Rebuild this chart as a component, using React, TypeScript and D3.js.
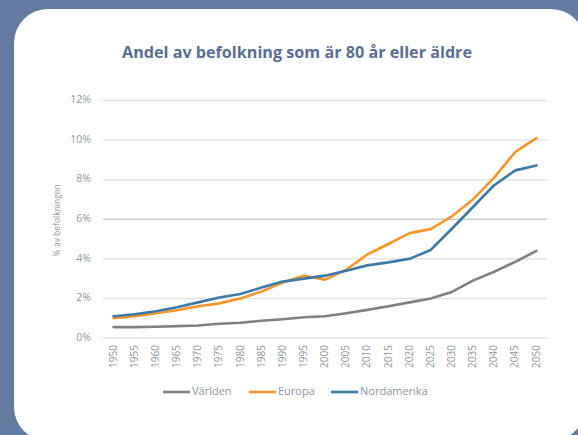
import React from "react";
import * as d3 from "d3";

const years = [1950, 1955, 1960, 1965, 1970, 1975, 1980, 1985, 1990, 1995, 2000, 2005, 2010, 2015, 2020, 2025, 2030, 2035, 2040, 2045, 2050];
const varlden = [0.55, 0.55, 0.57, 0.6, 0.63, 0.72, 0.77, 0.87, 0.95, 1.05, 1.1, 1.25, 1.42, 1.6, 1.8, 2.0, 2.33, 2.9, 3.35, 3.85, 4.4];
const europa = [1.0, 1.1, 1.25, 1.4, 1.6, 1.75, 2.0, 2.35, 2.8, 3.15, 2.95, 3.45, 4.22, 4.75, 5.3, 5.5, 6.15, 7.0, 8.1, 9.4, 10.1];
const nordamerika = [1.1, 1.2, 1.35, 1.55, 1.8, 2.05, 2.22, 2.55, 2.85, 3.0, 3.15, 3.4, 3.67, 3.82, 4.0, 4.45, 5.52, 6.62, 7.72, 8.47, 8.72];
const yTicks = [0, 2, 4, 6, 8, 10, 12];

const seriesNames = ["Världen", "Europa", "Nordamerika"];
const seriesValues = [varlden, europa, nordamerika];
const colors = ["#808080", "#f4962a", "#3c7aa6"];

const W = 578;
const H = 435;
const plot = { left: 103, right: 547, top: 100.5, bottom: 338 };

export default function App() {
  const x = d3
    .scalePoint<number>()
    .domain(years)
    .range([plot.left, plot.right])
    .padding(0.5);
  const y = d3.scaleLinear().domain([0, 12]).range([plot.bottom, plot.top]);

  const line = d3
    .line<number>()
    .x((_, i) => x(years[i]) as number)
    .y((d) => y(d));

  const tickColor = "#8d969e";

  return (
    <svg
      width={W}
      height={H}
      style={{ position: "fixed", left: 0, top: 0 }}
      fontFamily="'Open Sans', 'DejaVu Sans', sans-serif"
    >
      <rect width={W} height={H} fill="#637b9e" />
      <rect x={14} y={9} width={571} height={432} rx={34} ry={34} fill="#ffffff" />

      {/* Title */}
      <text
        x={297}
        y={58}
        textAnchor="middle"
        fontSize={16}
        fontWeight="bold"
        fill="#5a6e90"
        textLength={350}
        lengthAdjust="spacingAndGlyphs"
      >
        Andel av befolkning som är 80 år eller äldre
      </text>

      {/* Grid & Y labels */}
      {yTicks.map((t) => (
        <g key={`y-${t}`}>
          <line
            x1={plot.left}
            x2={plot.right}
            y1={y(t)}
            y2={y(t)}
            stroke={t === 6 ? "#c9cdd0" : "#e2e4e6"}
            strokeWidth={1.5}
          />
          <text
            x={91}
            y={y(t)}
            textAnchor="end"
            dominantBaseline="middle"
            fontSize={10.5}
            fill={tickColor}
          >
            {t}%
          </text>
        </g>
      ))}

      {/* Y axis title */}
      <text
        transform={`translate(58, ${y(6) + 1}) rotate(-90)`}
        textAnchor="middle"
        dominantBaseline="middle"
        fontSize={8.5}
        fill={tickColor}
      >
        % av befolkningen
      </text>

      {/* X labels */}
      {years.map((yr) => (
        <text
          key={`x-${yr}`}
          transform={`translate(${(x(yr) as number) + 0.5}, 345) rotate(-90)`}
          textAnchor="end"
          dominantBaseline="middle"
          fontSize={10}
          fill={tickColor}
        >
          {yr}
        </text>
      ))}

      {/* Lines */}
      {seriesValues.map((vals, i) => (
        <path
          key={`line-${i}`}
          d={line(vals) || ""}
          fill="none"
          stroke={colors[i]}
          strokeWidth={2.6}
          strokeLinejoin="round"
          strokeLinecap="round"
        />
      ))}

      {/* Legend */}
      {seriesNames.map((name, i) => {
        const lx = [163, 249, 331][i];
        return (
          <g key={name} transform={`translate(${lx}, 392)`}>
            <line x1={0} x2={27} y1={0} y2={0} stroke={colors[i]} strokeWidth={2.6} />
            <text x={29} y={0} dominantBaseline="middle" fontSize={11} fill={tickColor}>
              {name}
            </text>
          </g>
        );
      })}
    </svg>
  );
}
